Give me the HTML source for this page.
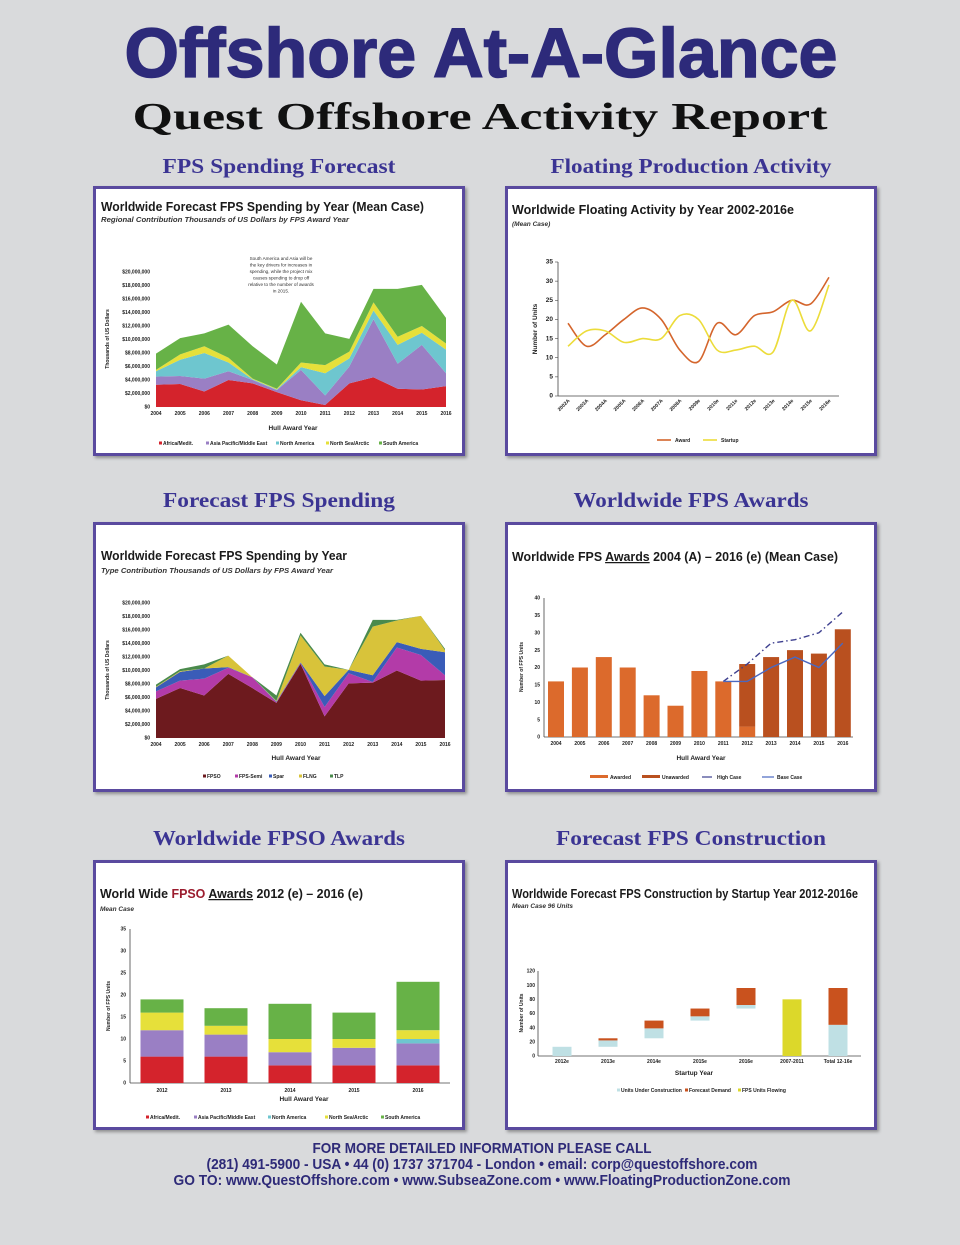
<!DOCTYPE html>
<html><head><meta charset="utf-8"><title>Offshore At-A-Glance</title>
<style>
html,body{margin:0;padding:0}
body{width:960px;height:1245px;background:#d9dadc;position:relative;overflow:hidden;font-family:"Liberation Sans",Arial,sans-serif}
.abs{position:absolute;left:0;top:0}
.panel{position:absolute;width:372px;height:270px;box-sizing:border-box;border:3px solid #5a4a9f;background:#fff;box-shadow:2px 2px 3px rgba(0,0,0,0.35)}
.panel svg{position:absolute;left:-3px;top:-3px;width:372px;height:270px;overflow:visible}
text{font-family:"Liberation Sans",Arial,sans-serif}
.ttl{font-weight:bold;font-size:12.5px;fill:#1a1a1a}
.sub{font-style:italic;font-weight:bold;font-size:7.5px;fill:#333}
.tk{font-size:5px;font-weight:bold;fill:#222}
.ax{font-size:6.5px;font-weight:bold;fill:#222}
.lg{font-size:5px;font-weight:bold;fill:#222}
</style></head>
<body>
<svg class="abs" width="960" height="1245">
 <text x="481" y="77" text-anchor="middle" textLength="713" lengthAdjust="spacingAndGlyphs" style="font-size:70px;font-weight:bold;fill:#2d2a7a;stroke:#2d2a7a;stroke-width:1.5px">Offshore At-A-Glance</text>
 <text x="480" y="129" text-anchor="middle" textLength="695" lengthAdjust="spacingAndGlyphs" style="font-family:'Liberation Serif',serif;font-size:38px;font-weight:bold;fill:#111">Quest Offshore Activity Report</text>
 <g style="font-family:'Liberation Serif',serif;font-size:21px;font-weight:bold;fill:#3b3493">
  <text x="279" y="173" text-anchor="middle" textLength="233" lengthAdjust="spacingAndGlyphs" style="font-family:'Liberation Serif',serif">FPS Spending Forecast</text>
  <text x="691" y="173" text-anchor="middle" textLength="281" lengthAdjust="spacingAndGlyphs" style="font-family:'Liberation Serif',serif">Floating Production Activity</text>
  <text x="279" y="507" text-anchor="middle" textLength="232" lengthAdjust="spacingAndGlyphs" style="font-family:'Liberation Serif',serif">Forecast FPS Spending</text>
  <text x="691" y="507" text-anchor="middle" textLength="235" lengthAdjust="spacingAndGlyphs" style="font-family:'Liberation Serif',serif">Worldwide FPS Awards</text>
  <text x="279" y="845" text-anchor="middle" textLength="252" lengthAdjust="spacingAndGlyphs" style="font-family:'Liberation Serif',serif">Worldwide FPSO Awards</text>
  <text x="691" y="845" text-anchor="middle" textLength="270" lengthAdjust="spacingAndGlyphs" style="font-family:'Liberation Serif',serif">Forecast FPS Construction</text>
 </g>
 <g style="font-size:15px;font-weight:bold;fill:#2e2a78">
  <text x="482" y="1153" text-anchor="middle" textLength="339" lengthAdjust="spacingAndGlyphs">FOR MORE DETAILED INFORMATION PLEASE CALL</text>
  <text x="482" y="1169" text-anchor="middle" textLength="551" lengthAdjust="spacingAndGlyphs">(281) 491-5900 - USA  •  44 (0) 1737 371704 - London  •  email: corp@questoffshore.com</text>
  <text x="482" y="1185" text-anchor="middle" textLength="617" lengthAdjust="spacingAndGlyphs">GO TO:  www.QuestOffshore.com •  www.SubseaZone.com  •  www.FloatingProductionZone.com</text>
 </g>
</svg>

<div class="panel" style="left:93px;top:186px">
<svg id="c1">
 <text class="ttl" x="8" y="25" textLength="323" lengthAdjust="spacingAndGlyphs">Worldwide Forecast FPS Spending by Year (Mean Case)</text>
 <text class="sub" x="8" y="36" textLength="248" lengthAdjust="spacingAndGlyphs">Regional Contribution Thousands of US Dollars by FPS Award Year</text>
 <g style="font-size:4.6px;fill:#333" text-anchor="middle">
  <text x="188" y="74">South America and Asia will be</text>
  <text x="188" y="80.5">the key drivers for increases in</text>
  <text x="188" y="87">spending, while the project mix</text>
  <text x="188" y="93.5">causes spending to drop off</text>
  <text x="188" y="100">relative to the number of awards</text>
  <text x="188" y="106.5">in 2015.</text>
 </g>
</svg></div>

<div class="panel" style="left:505px;top:186px">
<svg id="c2">
 <text class="ttl" x="7" y="28" textLength="282" lengthAdjust="spacingAndGlyphs">Worldwide Floating Activity by Year 2002-2016e</text>
 <text class="sub" x="7" y="40" style="font-size:6.5px">(Mean Case)</text>
</svg></div>

<div class="panel" style="left:93px;top:522px">
<svg id="c3">
 <text class="ttl" x="8" y="38" textLength="246" lengthAdjust="spacingAndGlyphs">Worldwide Forecast FPS Spending by Year</text>
 <text class="sub" x="8" y="51" textLength="232" lengthAdjust="spacingAndGlyphs">Type Contribution Thousands of US Dollars by FPS Award Year</text>
</svg></div>

<div class="panel" style="left:505px;top:522px">
<svg id="c4">
 <text class="ttl" x="7" y="39" textLength="326" lengthAdjust="spacingAndGlyphs">Worldwide FPS <tspan text-decoration="underline">Awards</tspan> 2004 (A) – 2016 (e) (Mean Case)</text>
</svg></div>

<div class="panel" style="left:93px;top:860px">
<svg id="c5">
 <text class="ttl" x="7" y="38" textLength="263" lengthAdjust="spacingAndGlyphs">World Wide <tspan fill="#9b1c2e">FPSO</tspan> <tspan text-decoration="underline">Awards</tspan> 2012 (e) – 2016 (e)</text>
 <text class="sub" x="7" y="51" style="font-size:6.5px">Mean Case</text>
</svg></div>

<div class="panel" style="left:505px;top:860px">
<svg id="c6">
 <text class="ttl" x="7" y="38" textLength="346" lengthAdjust="spacingAndGlyphs">Worldwide Forecast FPS Construction by Startup Year 2012-2016e</text>
 <text class="sub" x="7" y="48" style="font-size:6.5px">Mean Case 96 Units</text>
</svg></div>

<script>
// ---- Chart 1 data (millions USD) ----
const c1Years = ['2004','2005','2006','2007','2008','2009','2010','2011','2012','2013','2014','2015','2016'];
const c1Africa = [3.3,3.4,2.3,4.0,3.5,2.2,1.0,0.3,3.5,4.4,2.7,2.6,3.1];
const c1Asia = [1.2,1.2,1.9,1.3,0.5,0.3,4.5,1.4,2.5,8.6,3.7,6.6,1.9];
const c1NorthAm = [0.8,2.4,3.8,1.3,0.1,0.1,0.4,3.3,1.2,1.3,2.8,1.8,3.5];
const c1NorthSea = [0.2,0.8,1.0,0.7,0.1,0.1,0.7,1.2,1.0,1.2,1.2,1.0,0.9];
const c1SouthAm = [2.4,2.4,1.9,4.9,4.8,3.6,9.0,4.7,1.9,2.0,7.1,6.1,3.8];
const c1Ticks = ['$0','$2,000,000','$4,000,000','$6,000,000','$8,000,000','$10,000,000','$12,000,000','$14,000,000','$16,000,000','$18,000,000','$20,000,000'];
// ---- Chart 2 data ----
const c2Cats = ['2002A','2003A','2004A','2005A','2006A','2007A','2008A','2009e','2010e','2011e','2012e','2013e','2014e','2015e','2016e'];
const c2Award = [19,13,16,20,23,20,12,9,19,16,21,22,25,24,31];
const c2Startup = [13,17,17,14,15,15,21,20,12,12,13,11.5,25,17,29];
const c2Ticks = ['0','5','10','15','20','25','30','35'];
// ---- Chart 3 data (millions USD) ----
const c3Years = ['2004','2005','2006','2007','2008','2009','2010','2011','2012','2013','2014','2015','2016'];
const c3FPSO = [5.8,7.4,6.3,9.5,7.4,5.2,11.0,3.2,8.1,8.2,10.0,8.5,8.6];
const c3Semi = [1.1,1.1,2.5,0.9,1.6,0.1,0.1,1.4,1.5,0.1,3.4,3.8,0.7];
const c3Spar = [0.6,1.3,1.5,0.1,0,0.1,0.1,1.6,0.5,1.0,0.8,0.9,3.4];
const c3FLNG = [0.1,0.1,0,1.7,0,0.1,4.0,4.4,0,7.2,3.2,4.9,0.3];
const c3TLP = [0.3,0.3,0.6,0,0,0.8,0.4,0.3,0,1.0,0.1,0,0.2];
// ---- Chart 4 data ----
const c4Years = ['2004','2005','2006','2007','2008','2009','2010','2011','2012','2013','2014','2015','2016'];
const c4Awarded = [16,20,23,20,12,9,19,16,3,0,0,0,0];
const c4Unawarded = [0,0,0,0,0,0,0,0,18,23,25,24,31];
const c4HighYears = [7,8,9,10,11,12];
const c4High = [16,21,27,28,30,36];
const c4Base = [16,16,20,23,20,27];
const c4Ticks = ['0','5','10','15','20','25','30','35','40'];
// ---- Chart 5 data ----
const c5Years = ['2012','2013','2014','2015','2016'];
const c5Africa = [6,6,4,4,4];
const c5Asia = [6,5,3,4,5];
const c5NorthAm = [0,0,0,0,1];
const c5NorthSea = [4,2,3,2,2];
const c5SouthAm = [3,4,8,6,11];
const c5Ticks = ['0','5','10','15','20','25','30','35'];
// ---- Chart 6 data ----
const c6Cats = ['2012e','2013e','2014e','2015e','2016e','2007-2011','Total 12-16e'];
const c6Base = [0,13,25,50,67,0,0];
const c6UnderConstruction = [13,9,14,6,5,0,44];
const c6ForecastDemand = [0,3,11,11,24,0,52];
const c6Flowing = [0,0,0,0,0,80,0];
const c6Ticks = ['0','20','40','60','80','100','120'];

const NS='http://www.w3.org/2000/svg';
function mk(p,tag,attrs,txt){const e=document.createElementNS(NS,tag);for(const k in attrs)e.setAttribute(k,attrs[k]);if(txt!=null)e.textContent=txt;p.appendChild(e);return e;}

function stackArea(svg, series, colors, names, xf, yf){
  const n=series[0].length; let cum=new Array(n).fill(0);
  series.forEach((s,si)=>{
    const top=cum.map((c,i)=>c+s[i]);
    let pts=[];
    for(let i=0;i<n;i++)pts.push(xf(i)+','+yf(top[i]));
    for(let i=n-1;i>=0;i--)pts.push(xf(i)+','+yf(cum[i]));
    const p=mk(svg,'polygon',{points:pts.join(' '),fill:colors[si]});
    
    
    cum=top;
  });
}
function yAxis(svg,ticks,yf,xLab,cls,stepVal){
  ticks.forEach((t,i)=>{
    const e=mk(svg,'text',{x:xLab,y:yf(i*stepVal)+1.7,'text-anchor':'end','class':cls},t);
    
    
  });
}
function legend(svg,items,y){
  items.forEach(it=>{
    const r=mk(svg,'rect',{x:it.x-4,y:y-3.5,width:3,height:3,fill:it.c});
    
    
    const t=mk(svg,'text',{x:it.x,y:y,'class':'lg'},it.t);
    
    
  });
}
function label(svg,x,y,txt,cls){
  return mk(svg,'text',{x:x,y:y,'class':cls,'text-anchor':'middle'},txt);
}

// ===== Chart 1 =====
(function(){
  const svg=document.getElementById('c1');
  const xf=i=>63+i*(290/12), yf=v=>221-v*(135/20);
  stackArea(svg,[c1Africa,c1Asia,c1NorthAm,c1NorthSea,c1SouthAm],['#d4232c','#9a7fc4','#6ec6cf','#e6e03a','#67b247'],['africa','asia','north-america','north-sea','south-america'],xf,yf);
  yAxis(svg,c1Ticks,yf,57,'tk',2);
  c1Years.forEach((y,i)=>{const t=label(svg,xf(i),229,y,'tk');
    
    });
  const xt=label(svg,200,244,'Hull Award Year','ax');
  
  
  const yt=mk(svg,'text',{x:0,y:0,'class':'tk','text-anchor':'middle',transform:'translate(16,153) rotate(-90)'},'Thousands of US Dollars');
  
  
  legend(svg,[{x:70,t:'Africa/Medit.',c:'#d4232c'},{x:117,t:'Asia Pacific/Middle East',c:'#9a7fc4'},{x:187,t:'North America',c:'#6ec6cf'},{x:237,t:'North Sea/Arctic',c:'#e6e03a'},{x:290,t:'South America',c:'#67b247'}],259);
})();

// ===== Chart 2 =====
(function(){
  const svg=document.getElementById('c2');
  const xf=i=>63+i*(261/14), yf=v=>210-v*(134/35);
  mk(svg,'line',{x1:53,y1:76,x2:53,y2:210,stroke:'#444','stroke-width':0.8});
  mk(svg,'line',{x1:53,y1:210,x2:334,y2:210,stroke:'#444','stroke-width':0.8});
  c2Ticks.forEach((t,i)=>{mk(svg,'line',{x1:50,x2:53,y1:yf(i*5),y2:yf(i*5),stroke:'#444','stroke-width':0.6});});
  yAxis(svg,c2Ticks,yf,48,'ax',5);
  c2Cats.forEach((c,i)=>{
    const t=mk(svg,'text',{x:0,y:0,'class':'tk','text-anchor':'end',transform:'translate('+(xf(i)+2)+',215) rotate(-45)'},c);
    
    
  });
  function smooth(vals){
    const P=vals.map((v,i)=>[xf(i),yf(v)]); let d='M'+P[0][0]+','+P[0][1];
    for(let i=0;i<P.length-1;i++){const p0=P[Math.max(0,i-1)],p1=P[i],p2=P[i+1],p3=P[Math.min(P.length-1,i+2)];
      d+=' C'+(p1[0]+(p2[0]-p0[0])/6)+','+(p1[1]+(p2[1]-p0[1])/6)+' '+(p2[0]-(p3[0]-p1[0])/6)+','+(p2[1]-(p3[1]-p1[1])/6)+' '+p2[0]+','+p2[1];}
    return d;}
  const a=mk(svg,'path',{d:smooth(c2Award),fill:'none',stroke:'#d4652c','stroke-width':1.6});
  
  
  const s=mk(svg,'path',{d:smooth(c2Startup),fill:'none',stroke:'#ecdc3a','stroke-width':1.6});
  
  
  const yt=mk(svg,'text',{x:0,y:0,'class':'ax','text-anchor':'middle',transform:'translate(32,143) rotate(-90)'},'Number of Units');
  
  
  mk(svg,'line',{x1:152,x2:166,y1:254,y2:254,stroke:'#d4652c','stroke-width':1.6});
  const l1=mk(svg,'text',{x:170,y:256,'class':'lg'},'Award');
  
  
  mk(svg,'line',{x1:198,x2:212,y1:254,y2:254,stroke:'#ecdc3a','stroke-width':1.6});
  const l2=mk(svg,'text',{x:216,y:256,'class':'lg'},'Startup');
  
  
})();

// ===== Chart 3 =====
(function(){
  const svg=document.getElementById('c3');
  const xf=i=>63+i*(289/12), yf=v=>216-v*(135/20);
  stackArea(svg,[c3FPSO,c3Semi,c3Spar,c3FLNG,c3TLP],['#6d1a1e','#b33ba8','#3a5cb8','#d8c33a','#4a8a4c'],['fpso','fps-semi','spar','flng','tlp'],xf,yf);
  yAxis(svg,c1Ticks,yf,57,'tk',2);
  c3Years.forEach((y,i)=>{const t=label(svg,xf(i),224,y,'tk');
    
    });
  const xt=label(svg,203,238,'Hull Award Year','ax');
  
  
  const yt=mk(svg,'text',{x:0,y:0,'class':'tk','text-anchor':'middle',transform:'translate(16,148) rotate(-90)'},'Thousands of US Dollars');
  
  
  legend(svg,[{x:114,t:'FPSO',c:'#6d1a1e'},{x:146,t:'FPS-Semi',c:'#b33ba8'},{x:180,t:'Spar',c:'#3a5cb8'},{x:210,t:'FLNG',c:'#d8c33a'},{x:241,t:'TLP',c:'#4a8a4c'}],256);
})();

// ===== Chart 4 =====
(function(){
  const svg=document.getElementById('c4');
  const xf=i=>51+i*23.9, yf=v=>215-v*(139/40);
  mk(svg,'line',{x1:39,y1:76,x2:39,y2:215,stroke:'#444','stroke-width':0.8});
  mk(svg,'line',{x1:39,y1:215,x2:348,y2:215,stroke:'#444','stroke-width':0.8});
  yAxis(svg,c4Ticks,yf,35,'tk',5);
  c4Years.forEach((y,i)=>{
    const a=c4Awarded[i],u=c4Unawarded[i];
    if(a>0){const r=mk(svg,'rect',{x:xf(i)-8,y:yf(a),width:16,height:yf(0)-yf(a),fill:'#dc6a2c'});
      
      }
    if(u>0){const r=mk(svg,'rect',{x:xf(i)-8,y:yf(a+u),width:16,height:yf(a)-yf(a+u),fill:'#b9501f'});
      
      }
    const t=label(svg,xf(i),223,y,'tk');
    
    
  });
  const hp=mk(svg,'polyline',{points:c4HighYears.map((yi,k)=>xf(yi)+','+yf(c4High[k])).join(' '),fill:'none',stroke:'#3d3f8f','stroke-width':1.4,'stroke-dasharray':'6,3,1.5,3'});
  
  
  const bp=mk(svg,'polyline',{points:c4HighYears.map((yi,k)=>xf(yi)+','+yf(c4Base[k])).join(' '),fill:'none',stroke:'#4a68c0','stroke-width':1.4});
  
  
  const xt=label(svg,196,238,'Hull Award Year','ax');
  
  
  const yt=mk(svg,'text',{x:0,y:0,'class':'tk','text-anchor':'middle',transform:'translate(18,145) rotate(-90)'},'Number of FPS Units');
  
  
  mk(svg,'rect',{x:85,y:253,width:18,height:3,fill:'#dc6a2c'});
  const l1=mk(svg,'text',{x:105,y:257,'class':'lg'},'Awarded');
  
  
  mk(svg,'rect',{x:137,y:253,width:18,height:3,fill:'#b9501f'});
  const l2=mk(svg,'text',{x:157,y:257,'class':'lg'},'Unawarded');
  
  
  mk(svg,'line',{x1:197,x2:207,y1:255,y2:255,stroke:'#3d3f8f','stroke-width':1.2});
  const l3=mk(svg,'text',{x:212,y:257,'class':'lg'},'High Case');
  
  
  mk(svg,'line',{x1:257,x2:269,y1:255,y2:255,stroke:'#4a68c0','stroke-width':1.2});
  const l4=mk(svg,'text',{x:272,y:257,'class':'lg'},'Base Case');
  
  
})();

// ===== Chart 5 =====
(function(){
  const svg=document.getElementById('c5');
  const xf=i=>69+i*64, yf=v=>223-v*(154/35);
  mk(svg,'line',{x1:37,y1:69,x2:37,y2:223,stroke:'#444','stroke-width':0.8});
  mk(svg,'line',{x1:37,y1:223,x2:357,y2:223,stroke:'#444','stroke-width':0.8});
  yAxis(svg,c5Ticks,yf,33,'tk',5);
  const series=[c5Africa,c5Asia,c5NorthAm,c5NorthSea,c5SouthAm];
  const cols=['#d4232c','#9a7fc4','#6ec6cf','#e6e03a','#67b247'];
  c5Years.forEach((y,i)=>{
    let c=0;
    series.forEach((s,si)=>{
      if(s[i]>0){const r=mk(svg,'rect',{x:xf(i)-21.5,y:yf(c+s[i]),width:43,height:yf(c)-yf(c+s[i]),fill:cols[si]});
        
        }
      c+=s[i];
    });
    const t=label(svg,xf(i),232,y,'tk');
    
    
  });
  const xt=label(svg,211,241,'Hull Award Year','ax');
  
  
  const yt=mk(svg,'text',{x:0,y:0,'class':'tk','text-anchor':'middle',transform:'translate(17,146) rotate(-90)'},'Number of FPS Units');
  
  
  legend(svg,[{x:57,t:'Africa/Medit.',c:'#d4232c'},{x:105,t:'Asia Pacific/Middle East',c:'#9a7fc4'},{x:179,t:'North America',c:'#6ec6cf'},{x:236,t:'North Sea/Arctic',c:'#e6e03a'},{x:292,t:'South America',c:'#67b247'}],259);
})();

// ===== Chart 6 =====
(function(){
  const svg=document.getElementById('c6');
  const xf=i=>57+i*46, yf=v=>196-v*(85/120);
  mk(svg,'line',{x1:33,y1:111,x2:33,y2:196,stroke:'#444','stroke-width':0.8});
  mk(svg,'line',{x1:33,y1:196,x2:356,y2:196,stroke:'#444','stroke-width':0.8});
  yAxis(svg,c6Ticks,yf,30,'tk',20);
  c6Cats.forEach((c,i)=>{
    let b=c6Base[i];
    const segs=[[c6UnderConstruction[i],'#bfe0e4','bar-under-construction'],[c6ForecastDemand[i],'#c9521e','bar-forecast-demand'],[c6Flowing[i],'#dcd82a','bar-units-flowing']];
    segs.forEach(sg=>{
      if(sg[0]>0){const r=mk(svg,'rect',{x:xf(i)-9.5,y:yf(b+sg[0]),width:19,height:yf(b)-yf(b+sg[0]),fill:sg[1]});
        
        }
      b+=sg[0];
    });
    const t=label(svg,xf(i),203,c,'tk');
    
    
  });
  const xt=label(svg,189,215,'Startup Year','ax');
  
  
  const yt=mk(svg,'text',{x:0,y:0,'class':'tk','text-anchor':'middle',transform:'translate(18,153) rotate(-90)'},'Number of Units');
  
  
  legend(svg,[{x:116,t:'Units Under Construction',c:'#bfe0e4'},{x:184,t:'Forecast Demand',c:'#c9521e'},{x:237,t:'FPS Units Flowing',c:'#dcd82a'}],232);
})();
</script>
</body></html>
